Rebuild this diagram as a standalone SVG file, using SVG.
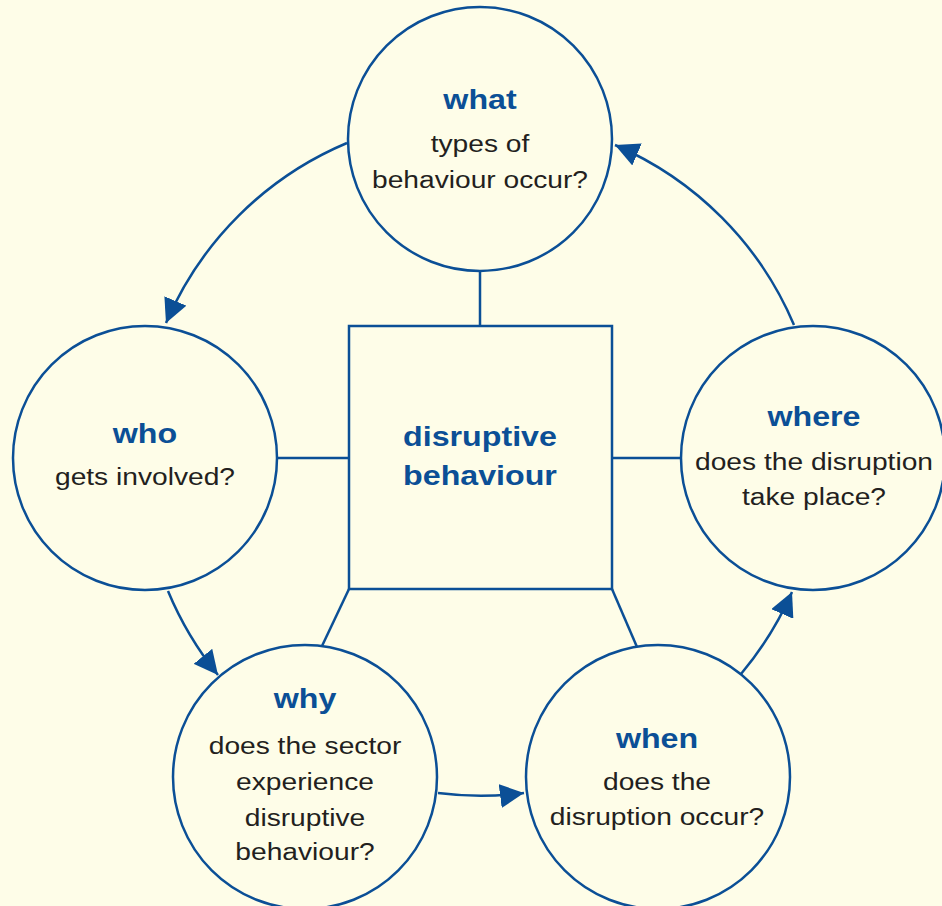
<svg xmlns="http://www.w3.org/2000/svg" width="942" height="906" viewBox="0 0 942 906">
<style>
.bg{fill:#FEFDE8}
.shape{fill:none;stroke:#0B4F96;stroke-width:2.5}
.conn{fill:none;stroke:#0B4F96;stroke-width:2.5}
.title{font-family:"Liberation Sans",Arial,sans-serif;font-weight:bold;font-size:28px;fill:#0B4F96;text-anchor:middle}
.body{font-family:"Liberation Sans",Arial,sans-serif;font-size:24.5px;fill:#231F20;text-anchor:middle}
</style>
<defs>
<marker id="ah" viewBox="0 0 10 10" refX="10" refY="5" markerUnits="userSpaceOnUse" markerWidth="24" markerHeight="24" orient="auto">
<path d="M0,0 L10,5 L0,10 z" fill="#0B4F96"/>
</marker>
</defs>
<rect class="bg" x="0" y="0" width="942" height="906"/>
<g id="connectors">
<line class="conn" x1="480" y1="271" x2="480" y2="326"/>
<line class="conn" x1="277" y1="458" x2="349" y2="458"/>
<line class="conn" x1="612" y1="458" x2="681" y2="458"/>
<line class="conn" x1="349" y1="589" x2="322" y2="646"/>
<line class="conn" x1="612" y1="589" x2="637" y2="647"/>
<path class="conn" d="M347,143 A340,340 0 0 0 166,323" marker-end="url(#ah)"/>
<path class="conn" d="M168,591 A340,340 0 0 0 218,675" marker-end="url(#ah)"/>
<path class="conn" d="M438,793 A340,340 0 0 0 524,793" marker-end="url(#ah)"/>
<path class="conn" d="M741,674 A340,340 0 0 0 792,592" marker-end="url(#ah)"/>
<path class="conn" d="M794,325 A340,340 0 0 0 615,145" marker-end="url(#ah)"/>
</g>
<g id="center">
<rect class="shape" x="349" y="326" width="263" height="263"/>
<g transform="translate(480,0) scale(1.15,1)">
<text class="title" x="0" y="446">disruptive</text>
<text class="title" x="0" y="485">behaviour</text>
</g>
</g>
<g id="what">
<circle class="shape" cx="480" cy="139" r="132"/>
<g transform="translate(480,0) scale(1.15,1)">
<text class="title" x="0" y="109">what</text>
<text class="body" x="0" y="152">types of</text>
<text class="body" x="0" y="188">behaviour occur?</text>
</g>
</g>
<g id="who">
<circle class="shape" cx="145" cy="458" r="132"/>
<g transform="translate(145,0) scale(1.15,1)">
<text class="title" x="0" y="443">who</text>
<text class="body" x="0" y="485">gets involved?</text>
</g>
</g>
<g id="where">
<circle class="shape" cx="813" cy="458" r="132"/>
<g transform="translate(814,0) scale(1.15,1)">
<text class="title" x="0" y="426">where</text>
<text class="body" x="0" y="470">does the disruption</text>
<text class="body" x="0" y="505">take place?</text>
</g>
</g>
<g id="why">
<circle class="shape" cx="305" cy="777" r="132"/>
<g transform="translate(305,0) scale(1.15,1)">
<text class="title" x="0" y="708">why</text>
<text class="body" x="0" y="754">does the sector</text>
<text class="body" x="0" y="790">experience</text>
<text class="body" x="0" y="826">disruptive</text>
<text class="body" x="0" y="860">behaviour?</text>
</g>
</g>
<g id="when">
<circle class="shape" cx="658" cy="777" r="132"/>
<g transform="translate(657,0) scale(1.15,1)">
<text class="title" x="0" y="748">when</text>
<text class="body" x="0" y="790">does the</text>
<text class="body" x="0" y="825">disruption occur?</text>
</g>
</g>
</svg>
